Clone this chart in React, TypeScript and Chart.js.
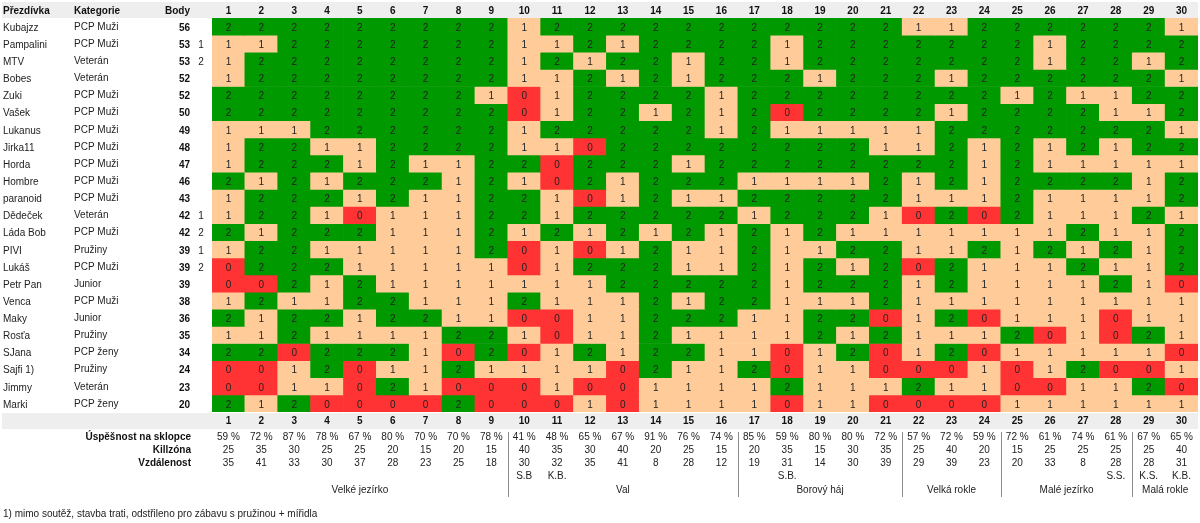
import React, { useEffect, useRef } from 'react';
import { Chart, registerables } from 'chart.js';

Chart.register(...registerables);

const nicknames = ['Kubajzz', 'Pampalini', 'MTV', 'Bobes', 'Zuki', 'Vašek', 'Lukanus', 'Jirka11', 'Horda', 'Hombre', 'paranoid', 'Dědeček', 'Láda Bob', 'PIVI', 'Lukáš', 'Petr Pan', 'Venca', 'Maky', 'Rosťa', 'SJana', 'Sajfi 1)', 'Jimmy', 'Marki'];
const categories = ['PCP Muži', 'PCP Muži', 'Veterán', 'Veterán', 'PCP Muži', 'PCP Muži', 'PCP Muži', 'PCP Muži', 'PCP Muži', 'PCP Muži', 'PCP Muži', 'Veterán', 'PCP Muži', 'Pružiny', 'PCP Muži', 'Junior', 'PCP Muži', 'Junior', 'Pružiny', 'PCP ženy', 'Pružiny', 'Veterán', 'PCP ženy'];
const points = [56, 53, 53, 52, 52, 50, 49, 48, 47, 46, 43, 42, 42, 39, 39, 39, 38, 36, 35, 34, 24, 23, 20];
const ranks = ['', '1', '2', '', '', '', '', '', '', '', '', '1', '2', '1', '2', '', '', '', '', '', '', '', ''];
const stations = ['1', '2', '3', '4', '5', '6', '7', '8', '9', '10', '11', '12', '13', '14', '15', '16', '17', '18', '19', '20', '21', '22', '23', '24', '25', '26', '27', '28', '29', '30'];

const scores: number[][] = [
  [2, 2, 2, 2, 2, 2, 2, 2, 2, 1, 2, 2, 2, 2, 2, 2, 2, 2, 2, 2, 2, 1, 1, 2, 2, 2, 2, 2, 2, 1],
  [1, 1, 2, 2, 2, 2, 2, 2, 2, 1, 1, 2, 1, 2, 2, 2, 2, 1, 2, 2, 2, 2, 2, 2, 2, 1, 2, 2, 2, 2],
  [1, 2, 2, 2, 2, 2, 2, 2, 2, 1, 2, 1, 2, 2, 1, 2, 2, 1, 2, 2, 2, 2, 2, 2, 2, 1, 2, 2, 1, 2],
  [1, 2, 2, 2, 2, 2, 2, 2, 2, 1, 1, 2, 1, 2, 1, 2, 2, 2, 1, 2, 2, 2, 1, 2, 2, 2, 2, 2, 2, 1],
  [2, 2, 2, 2, 2, 2, 2, 2, 1, 0, 1, 2, 2, 2, 2, 1, 2, 2, 2, 2, 2, 2, 2, 2, 1, 2, 1, 1, 2, 2],
  [2, 2, 2, 2, 2, 2, 2, 2, 2, 0, 1, 2, 2, 1, 2, 1, 2, 0, 2, 2, 2, 2, 1, 2, 2, 2, 2, 1, 1, 2],
  [1, 1, 1, 2, 2, 2, 2, 2, 2, 1, 2, 2, 2, 2, 2, 1, 2, 1, 1, 1, 1, 1, 2, 2, 2, 2, 2, 2, 2, 1],
  [1, 2, 2, 1, 1, 2, 2, 2, 2, 1, 1, 0, 2, 2, 2, 2, 2, 2, 2, 2, 1, 1, 2, 1, 2, 1, 2, 1, 2, 2],
  [1, 2, 2, 2, 1, 2, 1, 1, 2, 2, 0, 2, 2, 2, 1, 2, 2, 2, 2, 2, 2, 2, 2, 1, 2, 1, 1, 1, 1, 1],
  [2, 1, 2, 1, 2, 2, 2, 1, 2, 1, 0, 2, 1, 2, 2, 2, 1, 1, 1, 1, 2, 1, 2, 1, 2, 2, 2, 2, 1, 2],
  [1, 2, 2, 2, 1, 2, 1, 1, 2, 2, 1, 0, 1, 2, 1, 1, 2, 2, 2, 2, 2, 1, 1, 1, 2, 1, 1, 1, 1, 2],
  [1, 2, 2, 1, 0, 1, 1, 1, 2, 2, 1, 2, 2, 2, 2, 2, 1, 2, 2, 2, 1, 0, 2, 0, 2, 1, 1, 1, 2, 1],
  [2, 1, 2, 2, 2, 1, 1, 1, 2, 1, 2, 1, 2, 1, 2, 1, 2, 1, 2, 1, 1, 1, 1, 1, 1, 1, 2, 1, 1, 2],
  [1, 2, 2, 1, 1, 1, 1, 1, 2, 0, 1, 0, 1, 2, 1, 1, 2, 1, 1, 2, 2, 1, 1, 2, 1, 2, 1, 2, 1, 2],
  [0, 2, 2, 2, 1, 1, 1, 1, 1, 0, 1, 2, 2, 2, 1, 1, 2, 1, 2, 1, 2, 0, 2, 1, 1, 1, 2, 1, 1, 2],
  [0, 0, 2, 1, 2, 1, 1, 1, 1, 1, 1, 1, 2, 2, 2, 2, 2, 1, 2, 2, 2, 1, 2, 1, 1, 1, 1, 2, 1, 0],
  [1, 2, 1, 1, 2, 2, 1, 1, 1, 2, 1, 1, 1, 2, 1, 2, 2, 1, 1, 1, 2, 1, 1, 1, 1, 1, 1, 1, 1, 1],
  [2, 1, 2, 2, 1, 2, 2, 1, 1, 0, 0, 1, 1, 2, 2, 2, 1, 1, 2, 2, 0, 1, 2, 0, 1, 1, 1, 0, 1, 1],
  [1, 1, 2, 1, 1, 1, 1, 2, 2, 1, 0, 1, 1, 2, 1, 1, 1, 1, 2, 1, 2, 1, 1, 1, 2, 0, 1, 0, 2, 1],
  [2, 2, 0, 2, 2, 2, 1, 0, 2, 0, 1, 2, 1, 2, 2, 1, 1, 0, 1, 2, 0, 1, 2, 0, 1, 1, 1, 1, 1, 0],
  [0, 0, 1, 2, 0, 1, 1, 2, 1, 1, 1, 1, 0, 2, 1, 1, 2, 0, 1, 1, 0, 0, 0, 1, 0, 1, 2, 0, 0, 1],
  [0, 0, 1, 1, 0, 2, 1, 0, 0, 0, 1, 0, 0, 1, 1, 1, 1, 2, 1, 1, 1, 2, 1, 1, 0, 0, 1, 1, 2, 0],
  [2, 1, 2, 0, 0, 0, 0, 2, 0, 0, 0, 1, 0, 1, 1, 1, 1, 0, 1, 1, 0, 0, 0, 0, 1, 1, 1, 1, 1, 1],
];

const successRate = [59, 72, 87, 78, 67, 80, 70, 70, 78, 41, 48, 65, 67, 91, 76, 74, 85, 59, 80, 80, 72, 57, 72, 59, 72, 61, 74, 61, 67, 65];
const killZone = [25, 35, 30, 25, 25, 20, 15, 20, 15, 40, 35, 30, 40, 20, 25, 15, 20, 35, 15, 30, 35, 25, 40, 20, 15, 25, 25, 25, 25, 40];
const distance = [35, 41, 33, 30, 37, 28, 23, 25, 18, 30, 32, 35, 41, 8, 28, 12, 19, 31, 14, 30, 39, 29, 39, 23, 20, 33, 8, 28, 28, 31];
const notes = ['', '', '', '', '', '', '', '', '', 'S.B', 'K.B.', '', '', '', '', '', '', 'S.B.', '', '', '', '', '', '', '', '', '', 'S.S.', 'K.S.', 'K.B.'];
const groupNames = ['Velké jezírko', 'Val', 'Borový háj', 'Velká rokle', 'Malé jezírko', 'Malá rokle'];
const groupFirst = [1, 10, 17, 22, 25, 29];
const groupLast = [9, 16, 21, 24, 28, 30];
const footnote = '1) mimo soutěž, stavba trati, odstřileno pro zábavu s pružinou + mířidla';

const COLORS = ['#FF3333', '#FFCC99', '#009900'];
const FONT = "'Liberation Sans', Arial, sans-serif";

const tablePlugin = {
  id: 'tableText',
  beforeDatasetsDraw(chart: any) {
    const ctx = chart.ctx;
    const ca = chart.chartArea;
    ctx.save();
    ctx.fillStyle = '#EEEEEE';
    ctx.fillRect(2, 2, ca.right - 2, ca.top - 2);
    ctx.fillRect(2, ca.bottom + 1, ca.right - 2, 16);
    ctx.restore();
  },
  afterDatasetsDraw(chart: any) {
    const ctx = chart.ctx;
    const xs = chart.scales.x;
    const ys = chart.scales.y;
    const ca = chart.chartArea;
    const colW = (xs.right - xs.left) / stations.length;
    ctx.save();
    ctx.textBaseline = 'middle';

    // cell values
    ctx.font = `10px ${FONT}`;
    ctx.fillStyle = '#222222';
    ctx.textAlign = 'center';
    chart.data.datasets.forEach((ds: any, r: number) => {
      const meta = chart.getDatasetMeta(r);
      meta.data.forEach((bar: any, c: number) => {
        const p = bar.getCenterPoint();
        ctx.fillText(String(scores[r][c]), p.x, p.y + 1.5);
      });
    });

    // header
    ctx.font = `bold 10px ${FONT}`;
    ctx.fillStyle = '#111111';
    const hy = (2 + ca.top) / 2 + 1;
    ctx.textAlign = 'left';
    ctx.fillText('Přezdívka', 3, hy);
    ctx.fillText('Kategorie', 74, hy);
    ctx.textAlign = 'right';
    ctx.fillText('Body', 190, hy);
    ctx.textAlign = 'center';
    const by = ca.bottom + 9;
    stations.forEach((s, i) => {
      const x = xs.getPixelForValue(i);
      ctx.fillText(s, x, hy);
      ctx.fillText(s, x, by);
    });

    // rows
    nicknames.forEach((n, r) => {
      const y = ys.getPixelForValue(r + 0.5) + 1.5;
      ctx.font = `10px ${FONT}`;
      ctx.fillStyle = '#222222';
      ctx.textAlign = 'left';
      ctx.fillText(n, 3, y);
      ctx.fillText(categories[r], 74, y - 1);
      ctx.textAlign = 'center';
      if (ranks[r]) ctx.fillText(ranks[r], 201, y);
      ctx.font = `bold 10px ${FONT}`;
      ctx.fillStyle = '#111111';
      ctx.textAlign = 'right';
      ctx.fillText(String(points[r]), 190, y);
    });

    // stats
    const rowY = [ca.bottom + 25, ca.bottom + 38, ca.bottom + 51];
    const labels = ['Úspěšnost na sklopce', 'Killzóna', 'Vzdálenost'];
    ctx.font = `bold 10px ${FONT}`;
    ctx.fillStyle = '#111111';
    ctx.textAlign = 'right';
    labels.forEach((l, i) => ctx.fillText(l, 191, rowY[i]));
    ctx.font = `10px ${FONT}`;
    ctx.fillStyle = '#222222';
    ctx.textAlign = 'center';
    stations.forEach((s, i) => {
      const x = xs.getPixelForValue(i);
      ctx.fillText(`${successRate[i]} %`, x, rowY[0]);
      ctx.fillText(String(killZone[i]), x, rowY[1]);
      ctx.fillText(String(distance[i]), x, rowY[2]);
      if (notes[i]) ctx.fillText(notes[i], x, ca.bottom + 64);
    });
    groupNames.forEach((g, i) => {
      const x1 = xs.getPixelForValue(groupFirst[i] - 1) - colW / 2;
      const x2 = xs.getPixelForValue(groupLast[i] - 1) + colW / 2;
      ctx.fillText(g, (x1 + x2) / 2, ca.bottom + 78);
      if (i > 0) {
        ctx.strokeStyle = '#8C8C8C';
        ctx.lineWidth = 1;
        ctx.beginPath();
        const lx = Math.round(x1) + 0.5;
        ctx.moveTo(lx, ca.bottom + 20);
        ctx.lineTo(lx, ca.bottom + 85);
        ctx.stroke();
      }
    });
    ctx.textAlign = 'left';
    ctx.fillText(footnote, 3, ca.bottom + 102);
    ctx.restore();
  },
};

export default function App() {
  const ref = useRef<HTMLCanvasElement | null>(null);
  useEffect(() => {
    if (!ref.current) return;
    const datasets = scores.map((row, r) => ({
      label: nicknames[r],
      data: row.map(() => [r, r + 1]),
      backgroundColor: row.map((v) => COLORS[v]),
      borderWidth: 0,
      grouped: false,
      barPercentage: 1,
      categoryPercentage: 1,
    }));
    const chart = new Chart(ref.current, {
      type: 'bar',
      data: { labels: stations, datasets: datasets as any },
      options: {
        animation: false,
        responsive: false,
        events: [],
        layout: { padding: { left: 212, right: 2, top: 18, bottom: 111 } },
        plugins: { legend: { display: false }, tooltip: { enabled: false } },
        scales: {
          x: { type: 'category', display: false, offset: true },
          y: { type: 'linear', display: false, min: 0, max: nicknames.length, reverse: true },
        },
      },
      plugins: [tablePlugin],
    });
    return () => chart.destroy();
  }, []);
  return (
    <div style={{ position: 'fixed', left: 0, top: 0, width: 1200, height: 523, background: '#ffffff' }}>
      <canvas ref={ref} width={1200} height={523} style={{ width: 1200, height: 523 }} />
    </div>
  );
}
